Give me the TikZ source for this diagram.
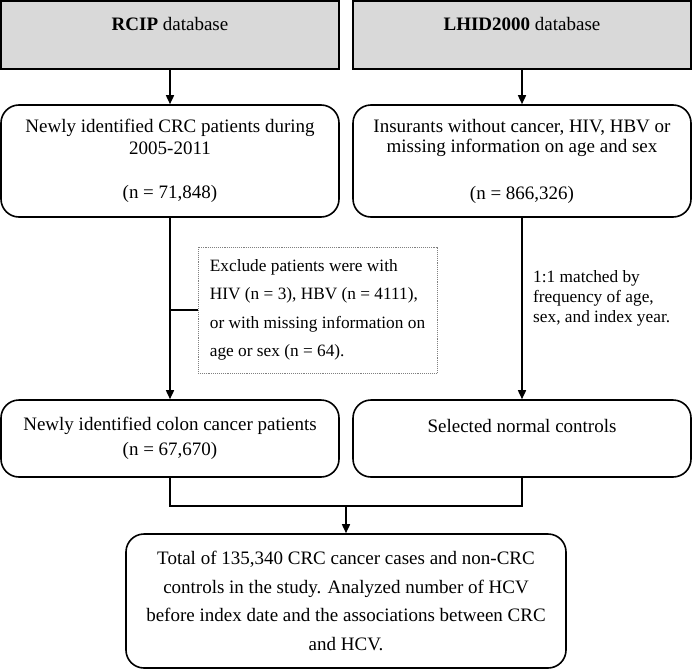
\documentclass[tikz,border=0pt]{standalone}
\usepackage{fontspec}
\setmainfont{Liberation Serif}
\usetikzlibrary{arrows.meta}
\definecolor{boxgrey}{RGB}{217,217,217}
\tikzset{
  base/.style={inner sep=0pt, align=center, font=\fontsize{19}{22}\selectfont},
  greybox/.style={base, draw, fill=boxgrey, line width=1.6pt, minimum width=338pt, minimum height=68pt},
  rbox/.style={base, draw, rounded corners=18pt, line width=1.6pt},
  dotbox/.style={draw=gray, densely dotted, line width=0.9pt, inner sep=0pt,
    minimum width=239pt, minimum height=126pt, align=left, font=\fontsize{17.3}{28.3}\selectfont},
  lbl/.style={inner sep=0pt, align=left, font=\fontsize{17.3}{20}\selectfont},
  arr/.style={line width=1.6pt, -{Triangle[length=9pt,width=8pt]}},
  conn/.style={line width=1.6pt},
}
\begin{document}
\begin{tikzpicture}[x=1pt,y=-1pt]
\useasboundingbox (0,0) rectangle (692,669);
% top database boxes
\node[greybox] (rcip) at (170,35) {\textbf{RCIP} database\\[1pt]\mbox{}};
\node[greybox] (lhid) at (522,35) {\textbf{LHID2000} database\\[1pt]\mbox{}};
% second row
\node[rbox, minimum width=338pt, minimum height=112pt, font=\fontsize{19}{21.5}\selectfont] (crc) at (170,161)
  {Newly identified CRC patients during\\2005-2011\\[23pt](n = 71,848)};
\node[rbox, minimum width=338pt, minimum height=112pt, font=\fontsize{19}{20.5}\selectfont] (ins) at (522,161)
  {Insurants without cancer, HIV, HBV or\\missing information on age and sex\\[26pt](n = 866,326)};
% exclusion box
\node[dotbox] (excl) at (317.5,310)
  {Exclude patients were with\\HIV (n = 3), HBV (n = 4111),\\or with missing information on\\age or sex (n = 64).};
% matching label
\node[lbl, anchor=west] (match) at (533,298)
  {1:1 matched by\\frequency of age,\\sex, and index year.};
% third row
\node[rbox, minimum width=338pt, minimum height=77pt, font=\fontsize{19}{25}\selectfont] (colon) at (170,438.5)
  {Newly identified colon cancer patients\\(n = 67,670)};
\node[rbox, minimum width=338pt, minimum height=77pt, font=\fontsize{19}{26}\selectfont] (ctrl) at (522,438.5)
  {Selected normal controls\\\mbox{}};
% final box
\node[rbox, minimum width=440pt, minimum height=134pt, font=\fontsize{19}{28.5}\selectfont] (total) at (346,601)
  {Total of 135,340 CRC cancer cases and non-CRC\\controls in the study. Analyzed number of HCV\\before index date and the associations between CRC\\and HCV.};
% connectors
\draw[arr] (rcip) -- (crc);
\draw[arr] (lhid) -- (ins);
\draw[arr] (crc) -- (colon);
\draw[conn] (excl.west) -- (excl.west -| crc.south);
\draw[arr] (ins) -- (ctrl);
\coordinate (join) at (346,506);
\draw[conn] (colon.south) |- (join) -| (ctrl.south);
\draw[arr] (join) -- (total);
\end{tikzpicture}
\end{document}
